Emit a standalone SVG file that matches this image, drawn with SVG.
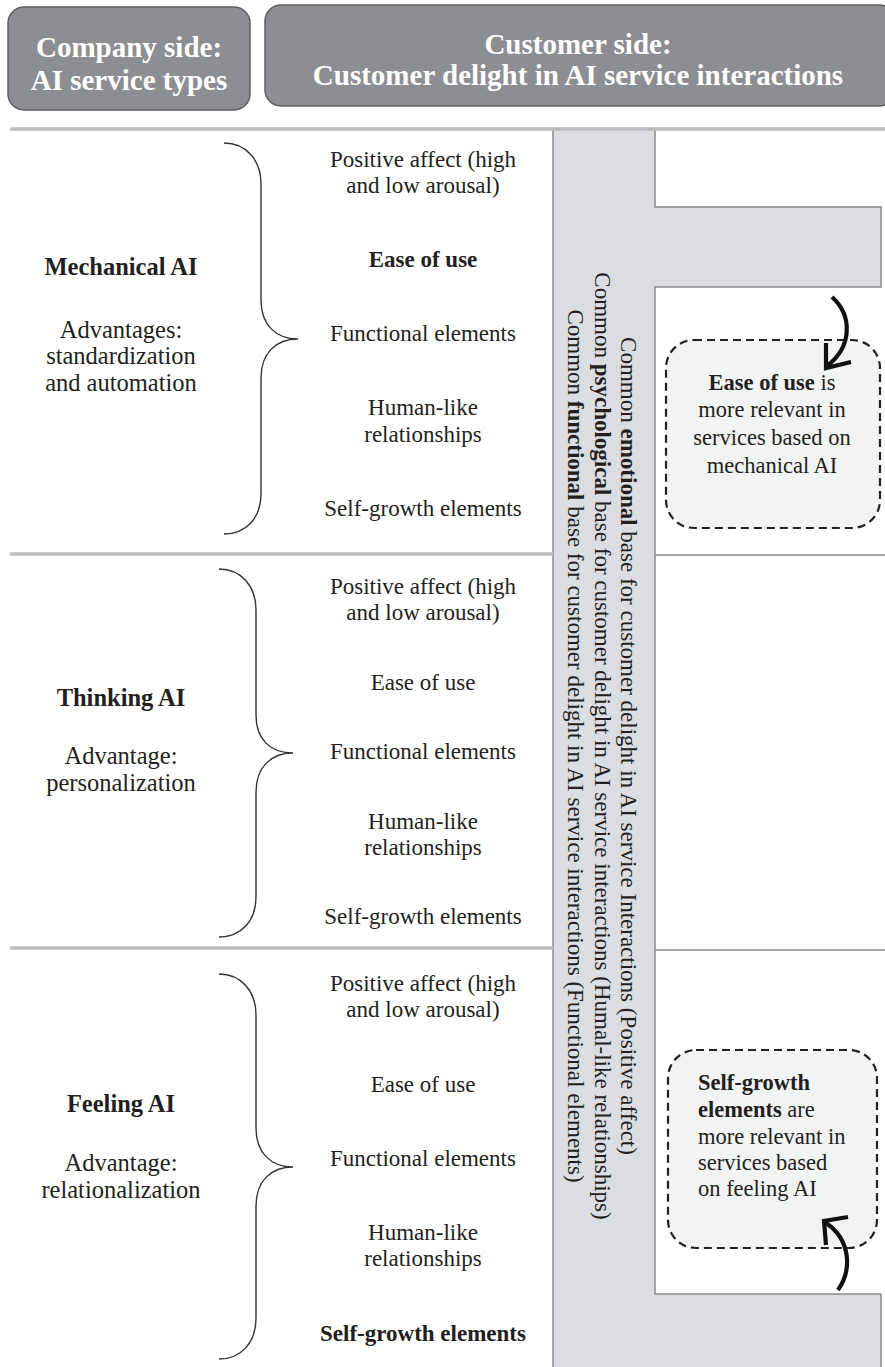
<svg xmlns="http://www.w3.org/2000/svg" width="885" height="1367" viewBox="0 0 885 1367">
<style>
text{font-family:"Liberation Serif","Times New Roman",serif;fill:#231f20}
.hd{font-size:29px;font-weight:bold;fill:#ffffff;text-anchor:middle}
.hbox{fill:#8d8e91;stroke:#5e5f62;stroke-width:1.5}
.lt{font-size:24.5px;text-anchor:middle}
.mt{font-size:23px;text-anchor:middle}
.vt{font-size:23px;text-anchor:middle}
.bt{font-size:22.5px}
.b{font-weight:bold}
.sep{stroke:#bdbdbd;stroke-width:3.5}
.thin{stroke:#8a8a8a;stroke-width:1.5;fill:none}
.brace{fill:none;stroke:#333;stroke-width:1.4}
.dbox{fill:#f2f3f3;stroke:#222;stroke-width:2.2;stroke-dasharray:8 5}
.arr{fill:none;stroke:#111;stroke-width:4.2;stroke-linecap:butt;stroke-linejoin:miter}
</style>
<rect width="885" height="1367" fill="#ffffff"/>

<g id="header-company">
<rect class="hbox" x="8" y="7" width="242" height="103" rx="16"/>
<text class="hd" x="129" y="57">Company side:</text>
<text class="hd" x="129" y="90">AI service types</text>
</g>
<g id="header-customer">
<rect class="hbox" x="265" y="5" width="630" height="101" rx="16"/>
<text class="hd" x="578" y="54">Customer side:</text>
<text class="hd" x="578" y="85">Customer delight in AI service interactions</text>
</g>

<g id="band">
<path d="M553,130 H655 V207 H881 V287 H655 V1294 H881 V1367 H553 Z" fill="#dcdde0"/>
<line class="thin" x1="553" y1="130" x2="553" y2="1367"/>
<path class="thin" d="M655,130 V207 H881 V287 H655 V1294 H881 V1367"/>
<text class="vt" transform="translate(621,746) rotate(90)">Common <tspan class="b">emotional</tspan> base for customer delight in AI service Interactions (Positive affect)</text>
<text class="vt" transform="translate(595,746) rotate(90)">Common <tspan class="b">psychological</tspan> base for customer delight in AI service interactions (Humal-like relationships)</text>
<text class="vt" transform="translate(568,746) rotate(90)">Common <tspan class="b">functional</tspan> base for customer delight in AI service interactions (Functional elements)</text>
</g>

<g id="separators">
<line class="sep" x1="10" y1="129" x2="885" y2="129"/>
<line class="sep" x1="10" y1="554" x2="553" y2="554"/>
<line class="sep" x1="10" y1="948" x2="553" y2="948"/>
<line class="thin" x1="655" y1="555" x2="885" y2="555"/>
<line class="thin" x1="655" y1="950" x2="885" y2="950"/>
</g>

<g id="mechanical">
<text class="lt b" x="121" y="275">Mechanical AI</text>
<text class="lt" x="121" y="338">Advantages:</text>
<text class="lt" x="121" y="364">standardization</text>
<text class="lt" x="121" y="391">and automation</text>
<path class="brace" d="M224,143 C246,143 261,160 261,184 L261,300 C261,325 276,339 298,339 C276,339 261,353 261,378 L261,494 C261,518 246,534 224,534"/>
<text class="mt" x="423" y="167">Positive affect (high</text>
<text class="mt" x="423" y="193">and low arousal)</text>
<text class="mt b" x="423" y="267">Ease of use</text>
<text class="mt" x="423" y="341">Functional elements</text>
<text class="mt" x="423" y="415">Human-like</text>
<text class="mt" x="423" y="442">relationships</text>
<text class="mt" x="423" y="516">Self-growth elements</text>
</g>

<g id="thinking">
<text class="lt b" x="121" y="706">Thinking AI</text>
<text class="lt" x="121" y="764">Advantage:</text>
<text class="lt" x="121" y="791">personalization</text>
<path class="brace" d="M219,569 C241,569 256,586 256,610 L256,715 C256,740 271,753 293,753 C271,753 256,767 256,792 L256,897 C256,921 241,937 219,937"/>
<text class="mt" x="423" y="594">Positive affect (high</text>
<text class="mt" x="423" y="620">and low arousal)</text>
<text class="mt" x="423" y="690">Ease of use</text>
<text class="mt" x="423" y="759">Functional elements</text>
<text class="mt" x="423" y="829">Human-like</text>
<text class="mt" x="423" y="855">relationships</text>
<text class="mt" x="423" y="924">Self-growth elements</text>
</g>

<g id="feeling">
<text class="lt b" x="121" y="1112">Feeling AI</text>
<text class="lt" x="121" y="1171">Advantage:</text>
<text class="lt" x="121" y="1198">relationalization</text>
<path class="brace" d="M219,974 C241,974 256,991 256,1015 L256,1128 C256,1153 271,1167 293,1167 C271,1167 256,1181 256,1206 L256,1318 C256,1343 241,1359 219,1359"/>
<text class="mt" x="423" y="991">Positive affect (high</text>
<text class="mt" x="423" y="1017">and low arousal)</text>
<text class="mt" x="423" y="1092">Ease of use</text>
<text class="mt" x="423" y="1166">Functional elements</text>
<text class="mt" x="423" y="1240">Human-like</text>
<text class="mt" x="423" y="1266">relationships</text>
<text class="mt b" x="423" y="1341">Self-growth elements</text>
</g>

<g id="note-ease">
<rect class="dbox" x="666" y="340" width="214" height="188" rx="28"/>
<text class="bt" x="772" y="390" text-anchor="middle"><tspan class="b">Ease of use</tspan> is</text>
<text class="bt" x="772" y="417" text-anchor="middle">more relevant in</text>
<text class="bt" x="772" y="445" text-anchor="middle">services based on</text>
<text class="bt" x="772" y="473" text-anchor="middle">mechanical AI</text>
</g>

<g id="note-selfgrowth">
<rect class="dbox" x="668" y="1050" width="209" height="198" rx="28"/>
<text class="bt" x="698" y="1090"><tspan class="b">Self-growth</tspan></text>
<text class="bt" x="698" y="1117"><tspan class="b">elements</tspan> are</text>
<text class="bt" x="698" y="1144">more relevant in</text>
<text class="bt" x="698" y="1170">services based</text>
<text class="bt" x="698" y="1196">on feeling AI</text>
</g>

<g id="connectors">
<path class="arr" d="M832,297 C852,315 853,346 827,366"/>
<polyline class="arr" points="826,343 826,368 851,362"/>
<path class="arr" d="M838,1290 C852,1270 851,1240 826,1223"/>
<polyline class="arr" points="848,1217 824,1221 826,1245"/>
</g>
</svg>
